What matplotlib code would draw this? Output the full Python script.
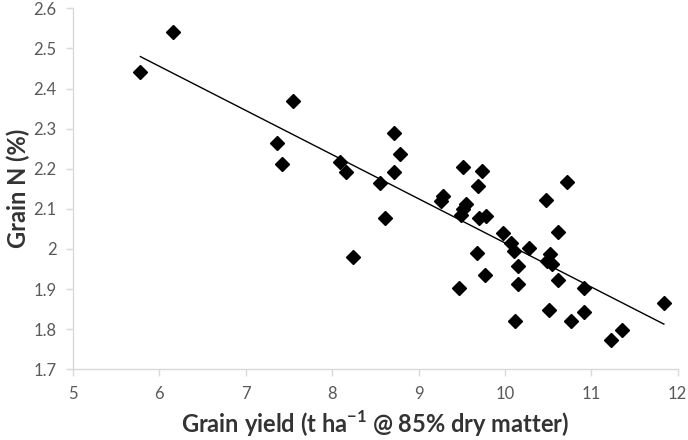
import numpy as np
import matplotlib.pyplot as plt

# grain yield (t/ha @ 85% DM) vs grain N (%)
yield_t = [5.78, 6.16, 7.55, 7.36, 7.42, 8.09, 8.16, 8.55, 8.72, 8.78,
           8.72, 8.61, 8.24, 9.51, 9.74, 9.69, 9.28, 9.26, 9.55, 9.49,
           9.52, 9.70, 9.78, 10.72, 10.47, 10.62, 9.98, 9.68, 9.77, 9.47,
           10.12, 10.07, 10.11, 10.15, 10.15, 10.28, 10.52, 10.49, 10.55, 10.61,
           10.51, 10.91, 10.76, 10.91, 11.35, 11.23, 11.84]
grain_n = [2.44, 2.54, 2.37, 2.264, 2.212, 2.216, 2.193, 2.164, 2.289, 2.238,
           2.191, 2.078, 1.98, 2.205, 2.195, 2.157, 2.132, 2.12, 2.112, 2.085,
           2.099, 2.078, 2.081, 2.168, 2.122, 2.043, 2.041, 1.991, 1.934, 1.903,
           1.82, 2.016, 1.995, 1.957, 1.912, 2.003, 1.988, 1.97, 1.962, 1.922,
           1.847, 1.902, 1.82, 1.843, 1.797, 1.772, 1.866]

x = np.array(yield_t)
y = np.array(grain_n)
slope, icpt = np.polyfit(x, y, 1)  # linear trendline

plt.rcParams['font.family'] = ['Lato', 'DejaVu Sans']
fig = plt.figure(figsize=(6.88, 4.4), dpi=100)
ax = fig.add_axes([0.1061, 0.1607, 0.8789, 0.8204])

ax.plot(x, y, 'D', color='black', markersize=7.6, zorder=3)
xl = np.array([x.min(), x.max()])
ax.plot(xl, icpt + slope * xl, color='black', lw=1.0, zorder=2)

ax.set_xlim(5, 12)
ax.set_ylim(1.7, 2.6)
ax.set_xticks(np.arange(5, 13, 1))
ax.set_yticks(np.arange(1.7, 2.65, 0.1))
ax.set_yticklabels(['1.7', '1.8', '1.9', '2', '2.1', '2.2', '2.3', '2.4', '2.5', '2.6'])

for s in ['top', 'right']:
    ax.spines[s].set_visible(False)
for s in ['left', 'bottom']:
    ax.spines[s].set_color('#d9d9d9')
    ax.spines[s].set_linewidth(1.0)
ax.tick_params(colors='#d9d9d9', labelcolor='#595959', labelsize=12, length=5, width=1.0)
ax.tick_params(axis='x', pad=7)
ax.tick_params(axis='y', pad=7)

ax.set_xlabel('Grain yield (t ha$^{\\mathregular{-1}}$ @ 85% dry matter)', fontsize=17,
              fontweight='bold', color='#333333', labelpad=5)
ax.set_ylabel('Grain N (%)', fontsize=17, fontweight='bold', color='#333333', labelpad=2)

fig.savefig('out.png', dpi=100)
